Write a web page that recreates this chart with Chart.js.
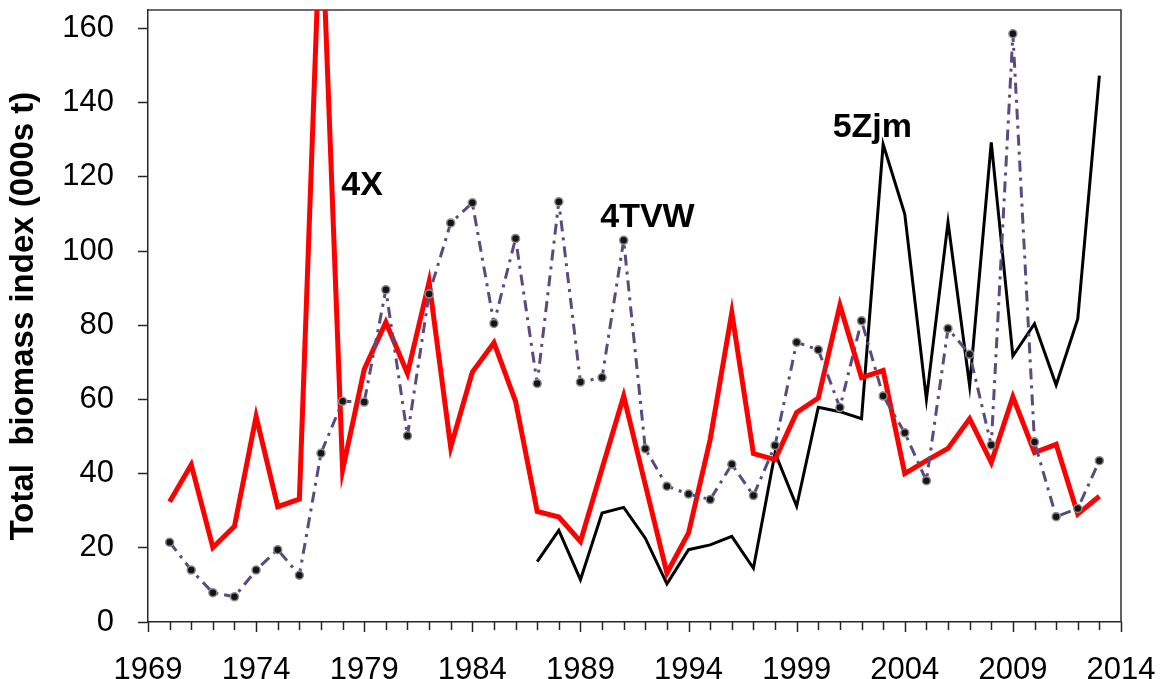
<!DOCTYPE html>
<html>
<head>
<meta charset="utf-8">
<title>Total biomass index</title>
<style>
  html, body { margin: 0; padding: 0; background: #ffffff; }
  #wrap { width: 1166px; height: 679px; position: relative; }
</style>
<script src="https://cdn.jsdelivr.net/npm/chart.js@4.4.0/dist/chart.umd.min.js"></script>
</head>
<body>
<div id="wrap"><canvas id="chart"></canvas></div>
<script>
// Survey years
const years = [
  1970, 1971, 1972, 1973, 1974, 1975, 1976, 1977, 1978, 1979,
  1980, 1981, 1982, 1983, 1984, 1985, 1986, 1987, 1988, 1989,
  1990, 1991, 1992, 1993, 1994, 1995, 1996, 1997, 1998, 1999,
  2000, 2001, 2002, 2003, 2004, 2005, 2006, 2007, 2008, 2009,
  2010, 2011, 2012, 2013
];
const years5Zjm = [
  1987, 1988, 1989, 1990, 1991, 1992, 1993, 1994, 1995, 1996,
  1997, 1998, 1999, 2000, 2001, 2002, 2003, 2004, 2005, 2006,
  2007, 2008, 2009, 2010, 2011, 2012, 2013
];

// Total biomass index (000s t) by area
const index4X = [
  32.4, 42.4, 20.1, 25.8, 55.4, 31.1, 33.1, 195, 41.0, 68.1,
  80.8, 67.0, 91.7, 47.1, 67.4, 75.3, 59.5, 29.8, 28.3, 21.7,
  41.4, 60.9, 37.0, 13.2, 24.0, 49.2, 83.4, 45.4, 43.8, 56.5,
  60.4, 85.4, 65.9, 67.8, 40.0, 43.5, 46.8, 54.8, 43.0, 60.7,
  45.7, 47.9, 29.1, 33.9
];
const index4TVW = [
  21.5, 14.0, 7.9, 6.8, 14.0, 19.5, 12.6, 45.5, 59.5, 59.3,
  89.6, 50.2, 88.4, 107.6, 113.0, 80.5, 103.4, 64.3, 113.3, 64.7,
  65.9, 102.9, 46.7, 36.6, 34.5, 33.0, 42.5, 34.1, 47.6, 75.4,
  73.4, 57.8, 81.2, 60.9, 51.0, 38.1, 79.1, 72.2, 47.7, 158.6,
  48.5, 28.4, 30.6, 43.5
];
const index5Zjm = [
  16.3, 24.7, 11.4, 29.4, 30.9, 22.6, 10.3, 19.5, 20.8, 23.1,
  14.5, 45.6, 31.2, 57.9, 56.7, 54.8, 128.8, 110.0, 60.0, 107.8,
  63.7, 129.3, 71.7, 80.4, 63.9, 81.7, 147.3
];

// Axis ticks
const xLabelYears = [1969, 1974, 1979, 1984, 1989, 1994, 1999, 2004, 2009, 2014];
const yLabelValues = [0, 20, 40, 60, 80, 100, 120, 140, 160];

// Area names written beside their series
const areaNames = ['4X', '4TVW', '5Zjm'];
const areaNameAt = [
  { year: 1978.9, value: 115.0 },
  { year: 1992.1, value: 106.5 },
  { year: 2002.5, value: 130.8 }
];

const AXIS = '#262626';
const FONT = '"Liberation Sans", Arial, sans-serif';
const toPoints = (xs, ys) => xs.map((x, i) => ({ x: x, y: ys[i] }));

// Yearly tick marks below the x axis, longer every fifth year
const yearTicks = {
  id: 'yearTicks',
  afterDraw(chart) {
    const { ctx, scales: { x }, chartArea } = chart;
    ctx.save();
    ctx.strokeStyle = AXIS;
    ctx.lineWidth = 1.5;
    for (let yr = x.min; yr <= x.max; yr++) {
      const px = Math.round(x.getPixelForValue(yr)) + 0.5;
      const len = xLabelYears.includes(yr) ? 10 : 8;
      ctx.beginPath();
      ctx.moveTo(px, chartArea.bottom);
      ctx.lineTo(px, chartArea.bottom + len);
      ctx.stroke();
    }
    ctx.restore();
  }
};

// Top and right edges of the plot box
const plotFrame = {
  id: 'plotFrame',
  beforeDatasetsDraw(chart) {
    const { ctx, chartArea: a } = chart;
    ctx.save();
    ctx.strokeStyle = '#3c3c3c';
    ctx.lineWidth = 1.6;
    ctx.beginPath();
    ctx.moveTo(a.left, a.top);
    ctx.lineTo(a.right, a.top);
    ctx.lineTo(a.right, a.bottom);
    ctx.stroke();
    ctx.restore();
  }
};

// Area names
const areaLabels = {
  id: 'areaLabels',
  afterDatasetsDraw(chart) {
    const { ctx, scales: { x, y } } = chart;
    ctx.save();
    ctx.fillStyle = '#000000';
    ctx.font = 'bold 34px ' + FONT;
    ctx.textAlign = 'center';
    ctx.textBaseline = 'alphabetic';
    areaNames.forEach((name, i) => {
      const p = areaNameAt[i];
      ctx.fillText(name, x.getPixelForValue(p.year), y.getPixelForValue(p.value));
    });
    ctx.restore();
  }
};

const noEdgePadding = scale => {
  scale.paddingTop = 0;
  scale.paddingBottom = 0;
  scale.paddingLeft = 0;
  scale.paddingRight = 0;
};

new Chart(document.getElementById('chart'), {
  type: 'line',
  data: {
    datasets: [
      {
        label: '4TVW',
        data: toPoints(years, index4TVW),
        borderColor: '#5b4a80',
        borderWidth: 3,
        borderDash: [11, 6, 3, 6],
        borderJoinStyle: 'round',
        pointRadius: 4,
        pointBackgroundColor: '#151515',
        pointBorderColor: '#8c8c8c',
        pointBorderWidth: 1.5,
        order: 1
      },
      {
        label: '4X',
        data: toPoints(years, index4X),
        borderColor: '#ff0000',
        borderWidth: 5,
        pointRadius: 0,
        order: 2
      },
      {
        label: '5Zjm',
        data: toPoints(years5Zjm, index5Zjm),
        borderColor: '#000000',
        borderWidth: 3,
        pointRadius: 0,
        order: 3
      }
    ]
  },
  options: {
    responsive: true,
    maintainAspectRatio: false,
    animation: false,
    events: [],
    layout: { padding: { top: 10, right: 45, left: 0, bottom: 0 } },
    elements: { line: { tension: 0, borderJoinStyle: 'miter' } },
    plugins: {
      legend: { display: false },
      tooltip: { enabled: false }
    },
    scales: {
      x: {
        type: 'linear',
        min: 1969,
        max: 2014,
        afterBuildTicks(scale) {
          scale.ticks = xLabelYears.map(v => ({ value: v }));
        },
        afterFit(scale) { scale.height = 57; noEdgePadding(scale); },
        grid: { display: false },
        border: { display: true, color: AXIS, width: 1.5 },
        ticks: {
          autoSkip: false,
          maxRotation: 0,
          padding: 22,
          color: '#000000',
          font: { family: FONT, size: 31 },
          callback: v => String(v)
        }
      },
      y: {
        type: 'linear',
        min: 0,
        max: 165,
        afterBuildTicks(scale) {
          const t = [];
          for (let v = 0; v <= 160; v += 10) t.push({ value: v });
          scale.ticks = t;
        },
        afterFit(scale) { scale.width = 148; noEdgePadding(scale); },
        grid: {
          drawOnChartArea: false,
          drawTicks: true,
          tickLength: 10,
          tickColor: AXIS,
          tickWidth: 1.5
        },
        border: { display: true, color: AXIS, width: 1.5 },
        title: {
          display: true,
          text: 'Total  biomass index (000s t)',
          color: '#000000',
          padding: { top: 4, bottom: 0 },
          font: { family: FONT, size: 33, weight: 'bold' }
        },
        ticks: {
          padding: 24,
          color: '#000000',
          font: { family: FONT, size: 31 },
          callback: v => (yLabelValues.includes(v) ? String(v) : '')
        }
      }
    }
  },
  plugins: [plotFrame, areaLabels, yearTicks]
});
</script>
</body>
</html>
